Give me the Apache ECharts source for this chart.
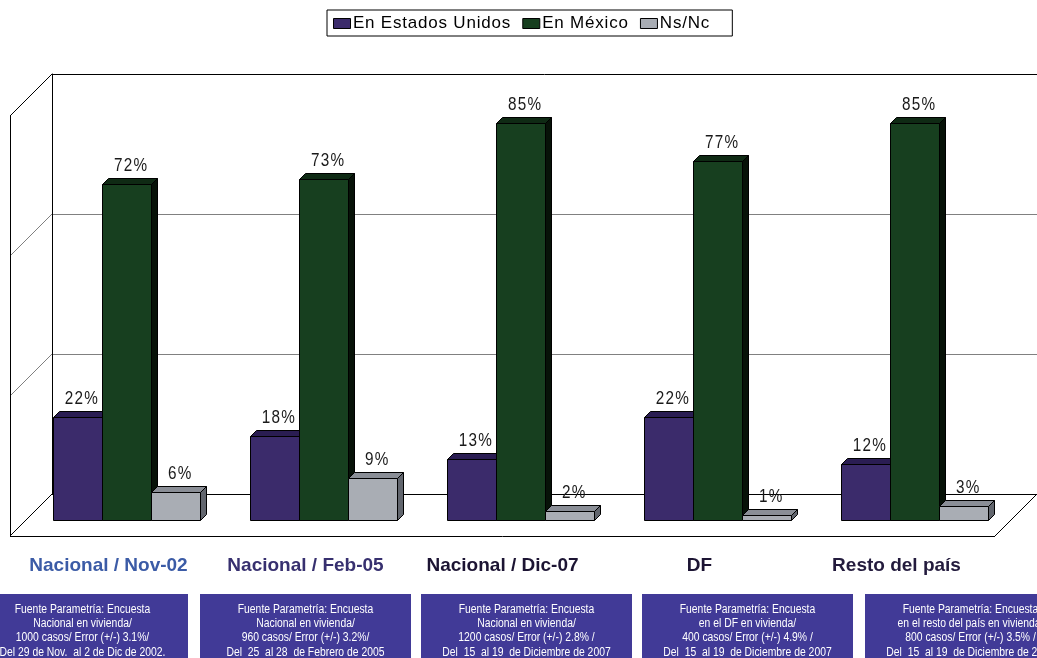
<!DOCTYPE html>
<html><head><meta charset="utf-8">
<script src="https://cdn.jsdelivr.net/npm/echarts@6/dist/echarts.min.js"></script>
<style>html,body{margin:0;padding:0;background:#fff}#c{width:1037px;height:658px}</style>
</head><body><div id="c"></div>
<script>
// ---- data ----
const categories = ['Nacional / Nov-02', 'Nacional / Feb-05', 'Nacional / Dic-07', 'DF', 'Resto del país'];
const seriesNames = ['En Estados Unidos', 'En México', 'Ns/Nc'];
const valuesUS = [22, 18, 13, 22, 12];
const valuesMX = [72, 73, 85, 77, 85];
const valuesNS = [6, 9, 2, 1, 3];
const yTicks = [0, 30, 60, 90];
const categoryColors = ['#3b5ba6', '#37306f', '#1c1433', '#1c1433', '#231b3d'];
const noteLines = [
  ['Fuente Parametría: Encuesta', 'Nacional en vivienda/', '1000 casos/ Error (+/-) 3.1%/', 'Del 29 de Nov.  al 2 de Dic de 2002.'],
  ['Fuente Parametría: Encuesta', 'Nacional en vivienda/', '960 casos/ Error (+/-) 3.2%/', 'Del  25  al 28  de Febrero de 2005'],
  ['Fuente Parametría: Encuesta', 'Nacional en vivienda/', '1200 casos/ Error (+/-) 2.8% /', 'Del  15  al 19  de Diciembre de 2007'],
  ['Fuente Parametría: Encuesta', 'en el DF en vivienda/', '400 casos/ Error (+/-) 4.9% /', 'Del  15  al 19  de Diciembre de 2007'],
  ['Fuente Parametría: Encuesta', 'en el resto del país en vivienda/', '800 casos/ Error (+/-) 3.5% /', 'Del  15  al 19  de Diciembre de 2007']
];

// ---- styles ----
const SANS = '"Liberation Sans",Arial,sans-serif';
const palettes = [
  {front: '#3b2b6b', top: '#2a1d52', side: '#1f143d'},
  {front: '#173f1f', top: '#0f2a14', side: '#071208'},
  {front: '#a9adb4', top: '#8a8e96', side: '#62666e'}
];
const DX = -24, DY = 26, DEPTH = 6, FLOOR = 42;

function spaced(str, tok) {
  return str.split('').map(ch => '{' + tok + '|' + ch + '}').join('');
}

function barRender(si) {
  const p = palettes[si];
  return function (params, api) {
    const idx = api.value(0), v = api.value(1);
    const c = api.coord([idx, v]);
    const c0 = api.coord([idx, 0]);
    const band = api.size([1, 0])[0];
    const w = band * 0.25;
    const cx = c[0] + DX + (si - 1) * w;
    const x0 = Math.round(cx - w / 2) + 0.5, x1 = Math.round(cx + w / 2) + 0.5;
    const yt = Math.round(c[1] + DY) + 0.5, yb = Math.round(c0[1] + DY) + 0.5;
    const d = DEPTH;
    const st = {stroke: '#000', lineWidth: 1};
    return {
      type: 'group',
      children: [
        {type: 'polygon', shape: {points: [[x1, yt], [x1 + d, yt - d], [x1 + d, yb - d], [x1, yb]]}, style: Object.assign({fill: p.side}, st)},
        {type: 'polygon', shape: {points: [[x0, yt], [x0 + d, yt - d], [x1 + d, yt - d], [x1, yt]]}, style: Object.assign({fill: p.top}, st)},
        {type: 'rect', shape: {x: x0, y: yt, width: x1 - x0, height: yb - yt}, style: Object.assign({fill: p.front}, st)},
        {type: 'text', x: cx + 4, y: yt - d - 3, scaleX: 0.85, style: {
          text: spaced(v + '%', 'v'), x: 0, y: 0, align: 'center', verticalAlign: 'bottom',
          rich: {v: {fontFamily: SANS, fontSize: 18, fill: '#1a1a1a', padding: [0, 0.7, 0, 0.7]}}
        }}
      ]
    };
  };
}

function wallRender(params, api) {
  const cs = params.coordSys;
  const L = cs.x, T = cs.y, R = cs.x + cs.width, B = cs.y + cs.height;
  const F = FLOOR;
  const ln = (x1, y1, x2, y2, col) => ({type: 'line', shape: {x1, y1, x2, y2}, style: {stroke: col, lineWidth: 1}});
  const kids = [];
  yTicks.forEach((t, i) => {
    const y = api.coord([0, t])[1];
    const col = (i === 0 || i === yTicks.length - 1) ? '#000' : '#808080';
    kids.push(ln(L, y, L - F, y + F, col));
  });
  kids.push(ln(L - F + 0.5, T + F, L - F + 0.5, B + F, '#000'));
  kids.push(ln(L - F, B + F + 0.5, R - F, B + F + 0.5, '#000'));
  kids.push(ln(R - F, B + F, R, B, '#000'));
  return {type: 'group', children: kids};
}

const seriesData = [valuesUS, valuesMX, valuesNS];

const graphics = [];
const boxX = [-23, 200, 421, 642, 865];
noteLines.forEach((lines, i) => {
  graphics.push({type: 'rect', shape: {x: boxX[i], y: 594, width: 211, height: 70}, style: {fill: '#413a97'}, silent: true});
  graphics.push({type: 'text', x: boxX[i] + 105.5, y: 602, scaleX: 0.83, style: {
    text: lines.join('\n'), x: 0, y: 0, align: 'center', verticalAlign: 'top', fill: '#ffffff',
    font: '12.5px ' + SANS, lineHeight: 14.3
  }, silent: true});
});

const rich = {};
categoryColors.forEach((c, i) => {
  rich['c' + i] = {color: c, fontFamily: SANS, fontWeight: 'bold', fontSize: 19, padding: [0, 2 * FLOOR, 0, 0]};
});

const chart = echarts.init(document.getElementById('c'), null, {renderer: 'canvas'});
chart.setOption({
  animation: false,
  backgroundColor: '#fff',
  grid: {left: 52, top: 74, width: 985, height: 420, containLabel: false},
  legend: {
    data: seriesNames.map((n, i) => ({name: n, itemStyle: {color: palettes[i].front, borderColor: '#000', borderWidth: 1}})),
    left: 327, top: 10, icon: 'rect', itemWidth: 17, itemHeight: 10, itemGap: 12,
    borderColor: '#000', borderWidth: 1, padding: [5, 23, 4, 6], backgroundColor: '#fff',
    formatter: n => spaced(n, 'l'),
    textStyle: {padding: [0, 0, 0, -3], rich: {l: {fontFamily: SANS, fontSize: 17, color: '#000', padding: [0, 0.4, 0, 0.4]}}},
    selectedMode: false
  },
  xAxis: {
    type: 'category', data: categories,
    axisLine: {show: false}, axisTick: {show: false}, splitLine: {show: false},
    axisLabel: {
      margin: 62, interval: 0,
      formatter: (v, i) => '{c' + i + '|' + v + '}',
      rich: rich
    }
  },
  yAxis: {
    type: 'value', min: 0, max: 90, interval: 30,
    axisLabel: {show: false}, axisTick: {show: false},
    axisLine: {show: true, lineStyle: {color: '#000', width: 1}},
    splitLine: {show: true, lineStyle: {color: ['#000', '#808080', '#808080', '#000'], width: 1}}
  },
  graphic: graphics,
  series: [
    {type: 'custom', name: '_walls', data: [[0, 0]], renderItem: wallRender, clip: false, silent: true, z: 1}
  ].concat(seriesNames.map((n, si) => ({
    type: 'custom', name: n, clip: false, z: 2 + si,
    itemStyle: {color: palettes[si].front},
    data: seriesData[si].map((v, i) => [i, v]),
    renderItem: barRender(si)
  })))
});
</script>
</body></html>
